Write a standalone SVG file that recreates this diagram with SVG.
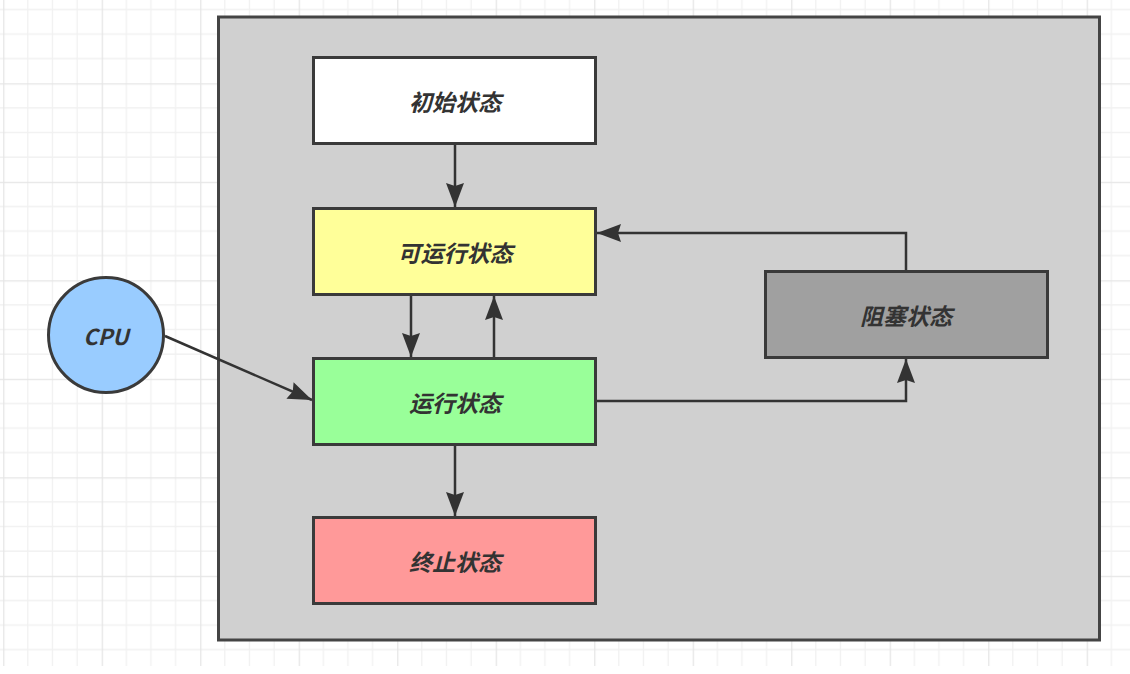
<svg xmlns="http://www.w3.org/2000/svg" width="1130" height="674" viewBox="0 0 1130 674">
  <style>
    .box { stroke: #3a3a3a; stroke-width: 3; }
    .lbl { font-family: "Noto Sans CJK SC", "Liberation Sans", sans-serif; font-size: 23px; font-weight: bold; font-style: italic; fill: #333333; text-anchor: middle; dominant-baseline: central; }
    .edge { fill: none; stroke: #333333; stroke-width: 2.5; }
  </style>
  <defs>
    <pattern id="grid" patternUnits="userSpaceOnUse" x="3.2" y="83.3" width="98.5" height="98.5">
      <path d="M24.6 0V98.5M49.25 0V98.5M73.9 0V98.5M0 24.6H98.5M0 49.25H98.5M0 73.9H98.5" stroke="#f1f1f1" stroke-width="1.3" fill="none"/>
      <path d="M0.5 0V98.5M0 0.5H98.5" stroke="#e5e5e5" stroke-width="1.5" fill="none"/>
    </pattern>
    <marker id="arr" markerUnits="userSpaceOnUse" markerWidth="28" markerHeight="22" viewBox="-25 -11 27 22" refX="0" refY="0" orient="auto">
      <path d="M0 0L-24 -9L-21 0L-24 9Z" fill="#333333"/>
    </marker>
  </defs>
  <rect width="1130" height="674" fill="#ffffff"/>
  <rect width="1130" height="666" fill="url(#grid)"/>

  <g id="container">
    <rect x="218.5" y="17" width="881" height="623" fill="#d0d0d0" stroke="#444444" stroke-width="3"/>
  </g>

  <g id="connectors">
    <line class="edge" x1="455" y1="145" x2="455" y2="207" marker-end="url(#arr)"/>
    <line class="edge" x1="411" y1="296" x2="411" y2="357" marker-end="url(#arr)"/>
    <line class="edge" x1="494" y1="357" x2="494" y2="296" marker-end="url(#arr)"/>
    <line class="edge" x1="455" y1="445" x2="455" y2="516" marker-end="url(#arr)"/>
    <polyline class="edge" points="906,270 906,233 597,233" marker-end="url(#arr)"/>
    <polyline class="edge" points="597,401 906,401 906,359" marker-end="url(#arr)"/>
    <line class="edge" x1="165" y1="336" x2="312" y2="400" marker-end="url(#arr)"/>
  </g>

  <g id="initial">
    <rect class="box" x="313.5" y="57.5" width="282" height="86" fill="#ffffff"/>
    <text class="lbl" x="455" y="101">初始状态</text>
  </g>
  <g id="runnable">
    <rect class="box" x="313.5" y="208.5" width="282" height="86" fill="#ffff99"/>
    <text class="lbl" x="455" y="252">可运行状态</text>
  </g>
  <g id="running">
    <rect class="box" x="313.5" y="358.5" width="282" height="86" fill="#99ff99"/>
    <text class="lbl" x="455" y="402">运行状态</text>
  </g>
  <g id="terminated">
    <rect class="box" x="313.5" y="517.5" width="282" height="86" fill="#ff9999"/>
    <text class="lbl" x="455" y="561">终止状态</text>
  </g>
  <g id="blocked">
    <rect class="box" x="765.5" y="271.5" width="282" height="86" fill="#a0a0a0"/>
    <text class="lbl" x="906" y="315">阻塞状态</text>
  </g>
  <g id="cpu">
    <circle class="box" cx="106" cy="335" r="57.5" fill="#99ccff"/>
    <text class="lbl" x="106" y="335" style="font-size:22px">CPU</text>
  </g>
</svg>
